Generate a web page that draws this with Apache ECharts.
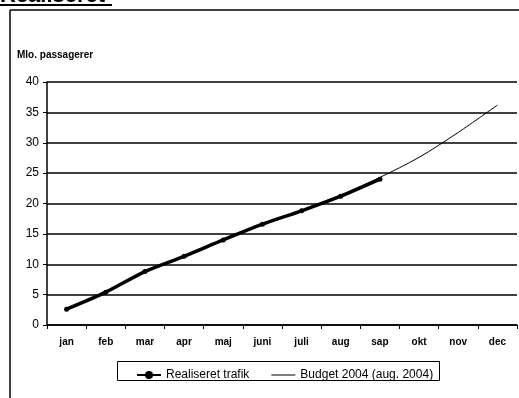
<!DOCTYPE html>
<html>
<head>
<meta charset="utf-8">
<script src="https://cdn.jsdelivr.net/npm/echarts@6/dist/echarts.min.js"></script>
<style>
html, body { margin: 0; padding: 0; background: #fff; }
#chart { width: 519px; height: 398px; }
</style>
</head>
<body>
<div id="chart"></div>
<script>
// maaneder
var months = ['jan', 'feb', 'mar', 'apr', 'maj', 'juni', 'juli', 'aug', 'sap', 'okt', 'nov', 'dec'];
// realiseret trafik (mio. passagerer), kun jan-sep
var realiseret = [2.6, 5.4, 8.8, 11.3, 14.0, 16.6, 18.8, 21.2, 24.0, null, null, null];
// budget 2004 (aug. 2004)
var budget = [2.6, 5.4, 8.7, 11.2, 13.9, 16.5, 18.9, 21.4, 24.3, 27.6, 31.7, 36.2];
var yTicks = [0, 5, 10, 15, 20, 25, 30, 35, 40];

var chart = echarts.init(document.getElementById('chart'));
var font = 'Arial, "Liberation Sans", sans-serif';

// tynd streg som legende-ikon (smaa usynlige hjoerner holder hoejden)
var thinLine = 'path://M0,0 L0.1,0 L0,0.1 Z M0,4.4 L30,4.4 L30,5.6 L0,5.6 Z M29.9,10 L30,10 L30,9.9 Z';

chart.setOption({
    animation: false,
    backgroundColor: '#fff',
    textStyle: { fontFamily: font, color: '#000' },
    graphic: [
        // titel, delvis afskaaret
        { type: 'text', left: 0, top: -15, style: { text: 'Realiseret', font: 'bold 22px ' + font, fill: '#000' } },
        { type: 'line', shape: { x1: 0, y1: 5, x2: 112, y2: 5 }, style: { stroke: '#000', lineWidth: 2 } },
        // ramme
        { type: 'line', shape: { x1: 10, y1: 10, x2: 519, y2: 10 }, style: { stroke: '#000', lineWidth: 1.5 } },
        { type: 'line', shape: { x1: 10, y1: 10, x2: 10, y2: 398 }, style: { stroke: '#000', lineWidth: 1.5 } },
        { type: 'text', left: 17, top: 50, style: { text: 'Mlo. passagerer', font: 'bold 10px ' + font, fill: '#000' } },
        // legende-boks
        { type: 'rect', shape: { x: 117.5, y: 361.5, width: 322, height: 19 }, style: { fill: 'none', stroke: '#000', lineWidth: 1 } }
    ],
    grid: { left: 47, right: 2, top: 82, bottom: 73, containLabel: false },
    legend: {
        top: 364,
        left: 131,
        itemGap: 22,
        itemWidth: 24,
        itemHeight: 10,
        textStyle: { fontSize: 12, color: '#000', fontFamily: font },
        data: [
            { name: 'Realiseret trafik' },
            { name: 'Budget 2004 (aug. 2004)', icon: thinLine, itemStyle: { color: '#000' } }
        ]
    },
    xAxis: {
        type: 'category',
        data: months,
        boundaryGap: true,
        axisLine: { lineStyle: { color: '#000', width: 1.5 } },
        axisTick: { show: true, length: 4, inside: false, lineStyle: { color: '#000' } },
        axisLabel: { fontSize: 10, fontWeight: 'bold', color: '#000', margin: 12 },
        splitLine: { show: false }
    },
    yAxis: {
        type: 'value',
        min: 0,
        max: 40,
        interval: 5,
        axisLine: { show: true, lineStyle: { color: '#000', width: 1.5 } },
        axisTick: { show: true, length: 4, lineStyle: { color: '#000' } },
        axisLabel: {
            fontSize: 12, color: '#000', margin: 8,
            formatter: function (v) { return yTicks.indexOf(v) >= 0 ? String(v) : ''; }
        },
        splitLine: { show: true, lineStyle: { color: '#000', width: 1.5 } }
    },
    series: [
        {
            name: 'Budget 2004 (aug. 2004)',
            type: 'line',
            data: budget,
            smooth: 0.3,
            symbol: 'none',
            lineStyle: { color: '#000', width: 1 },
            itemStyle: { color: '#000' },
            z: 2
        },
        {
            name: 'Realiseret trafik',
            type: 'line',
            data: realiseret,
            smooth: 0.3,
            symbol: 'circle',
            symbolSize: 5,
            showSymbol: true,
            lineStyle: { color: '#000', width: 3.5 },
            itemStyle: { color: '#000' },
            z: 3
        }
    ]
});
</script>
</body>
</html>
